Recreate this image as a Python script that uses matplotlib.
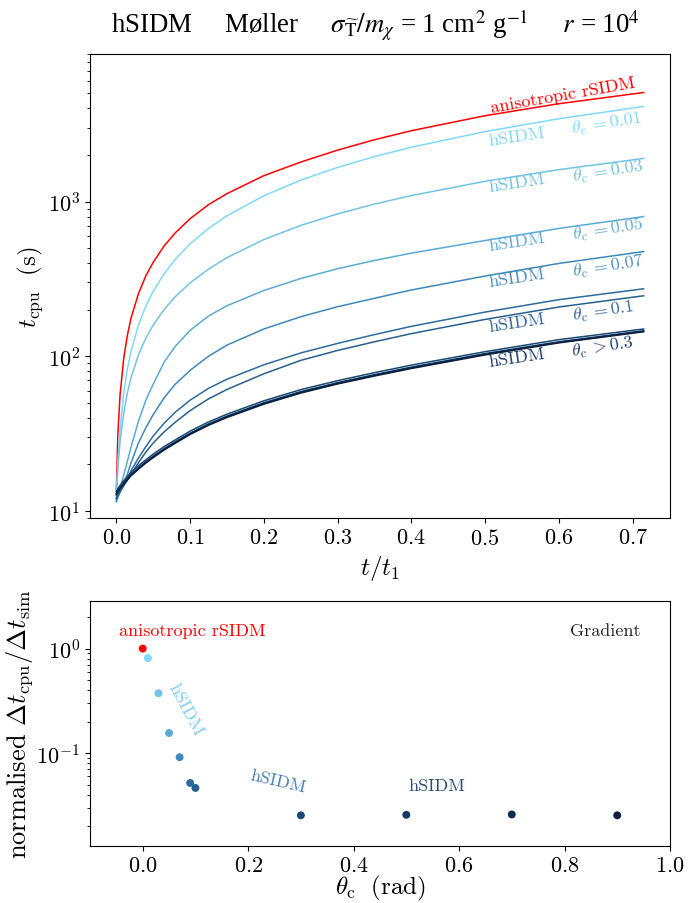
import matplotlib
matplotlib.use('Agg')
import matplotlib.pyplot as plt

plt.rcParams['font.family'] = 'serif'
plt.rcParams['font.serif'] = ['cmr10']
plt.rcParams['mathtext.fontset'] = 'cm'
plt.rcParams['axes.formatter.use_mathtext'] = True
plt.rcParams['xtick.labelsize'] = 16
plt.rcParams['ytick.labelsize'] = 16

# time in units of t_1
t = [0, 0.002, 0.005, 0.01, 0.015, 0.02, 0.03, 0.04, 0.05, 0.065, 0.08,
     0.1, 0.125, 0.15, 0.2, 0.25, 0.3, 0.35, 0.4, 0.5, 0.6, 0.715]

# cumulative cpu time (s)
cpu_rsidm = [13.5, 31, 56, 97, 137, 177, 254, 331, 405, 518, 628,
             775, 955, 1125, 1470, 1800, 2150, 2510, 2870, 3590, 4290, 5070]
cpu_001 = [12, 20.6, 34, 58, 83, 108, 159, 211, 263, 343, 424,
           533, 670, 809, 1090, 1375, 1662, 1952, 2245, 2834, 3430, 4120]
cpu_003 = [12, 18.7, 28, 43, 58, 73, 102, 131, 159, 201, 243,
           298, 366, 434, 568, 701, 832, 963, 1093, 1352, 1608, 1900]
cpu_005 = [11.5, 12.5, 14, 17, 21, 26, 38, 52, 66, 92, 116,
           147, 182, 212, 266, 318, 368, 416, 464, 560, 670, 800]
cpu_007 = [11.5, 12.2, 13.2, 15, 17.3, 20.5, 27.5, 34.5, 42, 54, 66,
           81, 100, 118, 150, 180, 209, 237, 268, 330, 398, 475]
cpu_009 = [12, 12.6, 13.4, 14.8, 16.3, 18.2, 22, 26, 30.5, 37, 43.5,
           52, 62, 71, 88, 105, 121, 138, 156, 193, 232, 273]
cpu_01 = [12, 12.6, 13.3, 14.5, 15.8, 17.3, 20.5, 24, 27.5, 32.5, 37.5,
          44.5, 53, 61, 77, 94, 109, 124, 140, 173, 208, 246]
cpu_03 = [13.4, 13.9, 14.6, 15.7, 16.7, 17.7, 19.6, 21.4, 23.3, 26.1, 28.8,
          32.8, 37.6, 42.2, 51.5, 60.8, 69.5, 78.3, 87.6, 107, 128, 150]
cpu_05 = [13, 13.5, 14.2, 15.2, 16.2, 17.2, 19, 20.8, 22.6, 25.3, 28,
          31.8, 36.5, 41, 50, 59, 67.5, 76, 85, 104, 124, 146]
cpu_07 = [12.9, 13.4, 14.1, 15.0, 16.0, 17.0, 18.8, 20.6, 22.4, 25.0, 27.7,
          31.5, 36.1, 40.6, 49.5, 58.4, 66.8, 75.2, 84.2, 103, 123, 145]
cpu_09 = [12.7, 13.2, 13.9, 14.9, 15.9, 16.9, 18.6, 20.4, 22.1, 24.8, 27.4,
          31.2, 35.8, 40.2, 49, 57.8, 66.2, 74.5, 83.3, 102, 122, 144]

hsidm_curves = [cpu_001, cpu_003, cpu_005, cpu_007, cpu_009, cpu_01, cpu_03, cpu_05, cpu_07, cpu_09]
hsidm_colors = ['#80d8fa', '#72c3e6', '#5aaad6', '#3f88bb', '#2d6b9c', '#27608f',
                '#1a4876', '#143a64', '#0e2c50', '#08203c']

# bottom panel: normalised cost per unit sim time
theta_c = [0.0, 0.01, 0.03, 0.05, 0.07, 0.09, 0.1, 0.3, 0.5, 0.7, 0.9]
cost = [1.0, 0.81, 0.374, 0.156, 0.0916, 0.052, 0.0466, 0.0255, 0.0258, 0.026, 0.0255]
dot_colors = ['red'] + hsidm_colors

label_theta = [r'$\theta_{\rm c}\,=0.01$', r'$\theta_{\rm c}\,=0.03$', r'$\theta_{\rm c}\,=0.05$',
               r'$\theta_{\rm c}\,=0.07$', r'$\theta_{\rm c}\,=0.1$', r'$\theta_{\rm c}\,>0.3$']
label_colors = ['#80d8fa', '#72c3e6', '#63acd8', '#4f8fbf', '#35689a', '#233f6e']
# label centres (axes fraction): hSIDM and theta
label_pos = [((0.736, 0.823), (0.891, 0.851)),
             ((0.736, 0.724), (0.893, 0.748)),
             ((0.736, 0.597), (0.893, 0.623)),
             ((0.736, 0.519), (0.893, 0.543)),
             ((0.736, 0.422), (0.884, 0.446)),
             ((0.736, 0.347), (0.884, 0.369))]

fig = plt.figure(figsize=(6.97, 9.04), dpi=100)
ax = fig.add_axes([0.1291, 0.4259, 0.8321, 0.5133])
ax2 = fig.add_axes([0.1291, 0.0631, 0.8321, 0.2710])

ax.plot(t, cpu_rsidm, color='red', lw=1.1)
for y, c in zip(hsidm_curves, hsidm_colors):
    ax.plot(t, y, color=c, lw=1.1)
ax.set_yscale('log')
ax.set_ylim(9, 9000)
ax.set_xticks([0, 0.1, 0.2, 0.3, 0.4, 0.5, 0.6, 0.7])
ax.set_xlabel(r'$t/t_1$', fontsize=18)
ax.set_ylabel(r'$t_{\rm cpu}\ \ ({\rm s})$', fontsize=18, labelpad=2)

rot = 8.5
ax.text(0.8155, 0.9116, 'anisotropic rSIDM', color='red', fontsize=13, rotation=10,
        ha='center', va='center', rotation_mode='anchor', transform=ax.transAxes)
for (p1, p2), lab, c in zip(label_pos, label_theta, label_colors):
    ax.text(p1[0], p1[1], 'hSIDM', color=c, fontsize=13, rotation=rot,
            ha='center', va='center', rotation_mode='anchor', transform=ax.transAxes)
    ax.text(p2[0], p2[1], lab, color=c, fontsize=13, rotation=rot,
            ha='center', va='center', rotation_mode='anchor', transform=ax.transAxes)

fig.text(0.539, 0.9635,
         r'hSIDM     Møller     $\sigma_{\widetilde{\rm T}}/m_\chi$ = 1 cm$^2$ g$^{-1}$     $r$ = 10$^4$',
         family='Liberation Serif', math_fontfamily='stix', fontsize=19.3,
         ha='center', va='baseline')

ax2.scatter(theta_c, cost, c=dot_colors, s=22, zorder=3)
ax2.set_yscale('log')
ax2.set_xlim(-0.1, 1.0)
ax2.set_ylim(0.013, 2.85)
ax2.set_xlabel(r'$\theta_{\rm c}\ \ ({\rm rad})$', fontsize=18)
ax2.xaxis.set_label_coords(0.5, -0.112)
ax2.set_ylabel(r'normalised $\Delta t_{\rm cpu}/\Delta t_{\rm sim}$', fontsize=19, labelpad=1)

ax2.text(0.176, 0.882, 'anisotropic rSIDM', color='red', fontsize=13,
         ha='center', va='center', transform=ax2.transAxes)
ax2.text(0.166, 0.559, 'hSIDM', color='#7fcdf0', fontsize=13, rotation=-62,
         ha='center', va='center', rotation_mode='anchor', transform=ax2.transAxes)
ax2.text(0.324, 0.265, 'hSIDM', color='#4a7fb5', fontsize=13, rotation=-13,
         ha='center', va='center', rotation_mode='anchor', transform=ax2.transAxes)
ax2.text(0.598, 0.249, 'hSIDM', color='#2c4c7c', fontsize=13,
         ha='center', va='center', transform=ax2.transAxes)
ax2.text(0.888, 0.882, 'Gradient', color='#222222', fontsize=13,
         ha='center', va='center', transform=ax2.transAxes)

fig.savefig('out.png', dpi=100)
